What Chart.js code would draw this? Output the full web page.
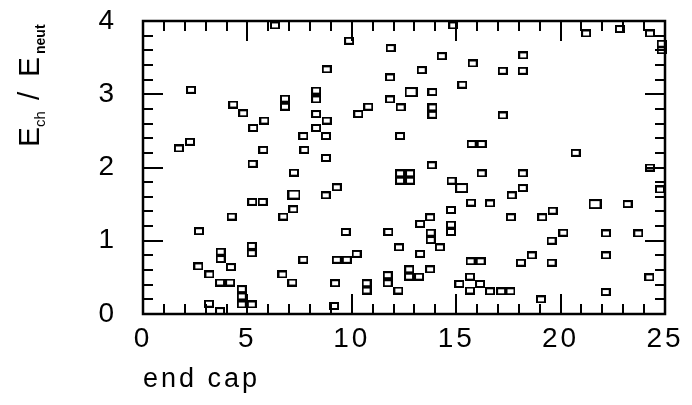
<!DOCTYPE html>
<html>
<head>
<meta charset="utf-8">
<script src="https://cdn.jsdelivr.net/npm/chart.js@4/dist/chart.umd.min.js"></script>
<style>
  html, body { margin: 0; padding: 0; background: #fff; }
  #wrap { width: 692px; height: 405px; position: relative; }
</style>
</head>
<body>
<div id="wrap"><canvas id="c" width="692" height="405"></canvas></div>
<script>
// ---- data ----
const xTickLabels = ['0', '5', '10', '15', '20', '25'];
const yTickLabels = ['0', '1', '2', '3', '4'];
const xTitle = 'end cap';

const smallX = [2.30,4.32,4.80,6.80,6.80,5.81,5.28,7.68,2.25,1.72,5.76,7.73,5.25,6.32,
  9.87,11.86,14.31,15.79,8.80,13.35,11.83,15.29,13.86,8.29,8.29,11.83,10.79,12.34,13.86,13.86,
  10.31,8.29,8.80,8.29,12.31,8.76,15.74,16.22,8.76,13.83,14.86,
  18.21,17.23,18.19,17.23,20.72,24.28,21.22,22.84,24.28,24.84,24.84,
  7.23,5.23,5.73,7.20,4.25,6.72,2.68,5.21,5.21,3.72,3.72,7.68,2.65,4.21,3.18,6.68,7.15,3.69,4.17,
  4.73,4.73,4.73,5.21,3.16,3.69,
  12.31,12.79,12.31,12.79,14.78,16.22,9.28,8.75,15.71,16.62,14.75,13.75,13.27,14.75,14.75,13.78,13.78,
  9.71,11.75,12.26,14.22,13.27,9.28,9.76,10.23,15.69,16.17,13.75,12.75,12.74,13.22,11.72,11.72,15.66,
  9.20,10.71,10.71,15.15,16.14,15.66,12.23,9.15,
  18.19,18.19,17.66,23.21,24.76,19.62,17.62,19.12,20.13,22.17,23.72,19.57,22.17,18.62,18.10,19.57,
  24.25,16.62,17.15,17.60,19.06,22.16];
const smallY = [3.06,2.86,2.74,2.94,2.83,2.64,2.54,2.43,2.35,2.26,2.24,2.24,2.05,3.94,
  3.73,3.63,3.52,3.42,3.34,3.33,3.23,3.13,3.03,3.05,2.93,2.93,2.83,2.82,2.82,2.72,
  2.73,2.73,2.64,2.54,2.43,2.43,2.32,2.32,2.13,2.03,3.94,
  3.53,3.32,3.32,2.71,2.20,2.00,3.83,3.89,3.83,3.69,3.60,
  1.93,1.53,1.53,1.43,1.33,1.33,1.13,0.93,0.83,0.85,0.75,0.74,0.65,0.64,0.54,0.54,0.43,0.43,0.43,
  0.34,0.24,0.13,0.13,0.14,0.04,
  1.92,1.92,1.82,1.82,1.82,1.92,1.73,1.62,1.52,1.51,1.42,1.32,1.23,1.22,1.12,1.11,1.01,
  1.12,1.12,0.91,0.91,0.82,0.74,0.74,0.82,0.72,0.72,0.61,0.61,0.51,0.51,0.53,0.42,0.51,
  0.42,0.42,0.32,0.41,0.41,0.32,0.32,0.11,
  1.92,1.72,1.62,1.50,1.70,1.41,1.32,1.32,1.11,1.10,1.10,1.00,0.80,0.80,0.70,0.70,
  0.50,0.31,0.31,0.31,0.20,0.30];
const bigX = [12.84, 7.23, 15.26, 21.65];
const bigY = [3.03, 1.63, 1.72, 1.50];

// ---- marker images ----
function makeMarker(w, h, lw) {
  const c = document.createElement('canvas');
  c.width = w; c.height = h;
  const g = c.getContext('2d');
  g.strokeStyle = '#000';
  g.lineWidth = lw;
  g.strokeRect(lw / 2, lw / 2, w - lw, h - lw);
  return c;
}
const smallMarker = makeMarker(10, 8, 2);
const bigMarker = makeMarker(13, 10, 2);

const toPts = (xs, ys) => xs.map((x, i) => ({ x: x, y: ys[i] }));

const FONT = 'Liberation Sans, Arial, sans-serif';
const LS = '3px';

// frame, inward ticks and y title
const framePlugin = {
  id: 'frame',
  beforeDraw(chart) { chart.ctx.letterSpacing = LS; },
  afterDatasetsDraw(chart) {
    const ctx = chart.ctx;
    const a = chart.chartArea;
    const xs = chart.scales.x, ys = chart.scales.y;
    ctx.save();
    ctx.strokeStyle = '#000';
    ctx.lineWidth = 2.5;
    ctx.strokeRect(a.left, a.top, a.right - a.left, a.bottom - a.top);
    ctx.lineWidth = 2;
    ctx.beginPath();
    for (let v = 0; v <= 25; v++) {
      const px = Math.round(xs.getPixelForValue(v));
      const len = (v % 5 === 0) ? 20 : 10;
      ctx.moveTo(px, a.bottom); ctx.lineTo(px, a.bottom - len);
      ctx.moveTo(px, a.top); ctx.lineTo(px, a.top + len);
    }
    for (let k = 0; k <= 20; k++) {
      const v = k * 0.2;
      const py = Math.round(ys.getPixelForValue(v));
      const len = (k % 5 === 0) ? 20 : 10;
      ctx.moveTo(a.left, py); ctx.lineTo(a.left + len, py);
      ctx.moveTo(a.right, py); ctx.lineTo(a.right - len, py);
    }
    ctx.stroke();
    ctx.restore();
  },
  afterDraw(chart) {
    const ctx = chart.ctx;
    ctx.save();
    ctx.letterSpacing = '0px';
    ctx.fillStyle = '#000';
    ctx.translate(39, 147);
    ctx.rotate(-Math.PI / 2);
    ctx.textBaseline = 'alphabetic';
    ctx.font = '30px ' + FONT;
    ctx.fillText('E', 0, 0);
    ctx.font = '15px ' + FONT;
    ctx.fillText('ch', 20, 6);
    ctx.font = '30px ' + FONT;
    ctx.fillText('/', 47, 0);
    ctx.fillText('E', 70, 0);
    ctx.font = 'bold 14px ' + FONT;
    ctx.fillText('neut', 93, 6);
    ctx.restore();
  }
};

new Chart(document.getElementById('c'), {
  type: 'scatter',
  data: {
    datasets: [
      { data: toPts(smallX, smallY), pointStyle: smallMarker, pointRadius: 4, clip: false },
      { data: toPts(bigX, bigY), pointStyle: bigMarker, pointRadius: 5, clip: false }
    ]
  },
  options: {
    responsive: false,
    animation: false,
    devicePixelRatio: 1,
    layout: { padding: { top: 21, right: 27, left: 0, bottom: 0 } },
    plugins: { legend: { display: false }, tooltip: { enabled: false } },
    scales: {
      x: {
        type: 'linear', min: 0, max: 25,
        grid: { display: false, drawTicks: false },
        border: { display: false },
        ticks: {
          stepSize: 5, padding: 8, color: '#000',
          font: { family: FONT, size: 28 },
          callback: (v) => xTickLabels[xTickLabels.indexOf(String(v))] ?? ''
        },
        title: {
          display: true, text: xTitle, align: 'start', color: '#000',
          font: { family: FONT, size: 27 }, padding: { top: 0, bottom: 9 }
        },
        afterFit: (s) => { s.height = 91; s.paddingLeft = 0; s.paddingRight = 0; }
      },
      y: {
        type: 'linear', min: 0, max: 4,
        grid: { display: false, drawTicks: false },
        border: { display: false },
        ticks: {
          stepSize: 1, padding: 26, color: '#000',
          font: { family: FONT, size: 28 },
          callback: (v) => yTickLabels[yTickLabels.indexOf(String(v))] ?? ''
        },
        afterFit: (s) => { s.width = 143; s.paddingTop = 0; s.paddingBottom = 0; }
      }
    }
  },
  plugins: [framePlugin]
});
</script>
</body>
</html>
